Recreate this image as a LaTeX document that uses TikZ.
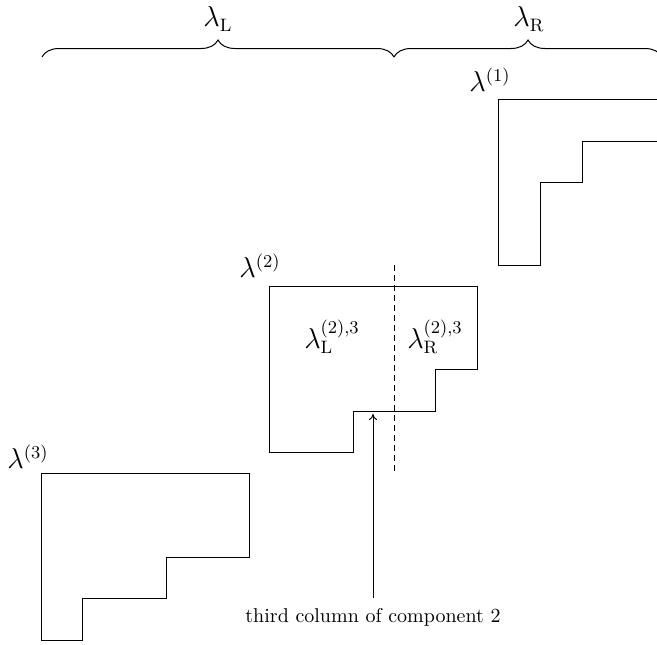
\documentclass[tikz,border=0pt]{standalone}
\usetikzlibrary{decorations.pathreplacing,arrows.meta}
\begin{document}
\begin{tikzpicture}[x=0.5pt,y=-0.5pt,
  diag/.style={draw,line width=0.5pt,line join=miter},
  lab/.style={inner sep=0pt,font=\fontsize{13.5}{16}\selectfont},
  bracedeco/.style={draw,line width=0.5pt,decorate,decoration={brace,amplitude=8.5pt,aspect=0.5}},
  cut/.style={draw,line width=0.5pt,dash pattern=on 3pt off 2pt}]
\useasboundingbox (0,0) rectangle (657,644);
\clip (0,0) rectangle (657,644);
% braces
\coordinate (bl) at (42,57);
\coordinate (bm) at (394,57);
\coordinate (br) at (662,57);
\draw[bracedeco] (bl) -- (bm);
\draw[bracedeco] (bm) -- (br);
\node[lab] (lamL) at (218,19) {$\lambda_{\mathrm{L}}$};
\node[lab] (lamR) at (529,19) {$\lambda_{\mathrm{R}}$};
% component 1
\node[lab] (l1) at (490,80) {$\lambda^{(1)}$};
\draw[diag] (657,99) -- (498,99) -- (498,265) -- (540,265) -- (540,182) -- (582,182) -- (582,141) -- (657,141);
% component 2
\node[lab] (l2) at (260,266) {$\lambda^{(2)}$};
\draw[diag] (269,286) -- (477,286) -- (477,369) -- (435,369) -- (435,411) -- (353,411) -- (353,452) -- (269,452) -- cycle;
\coordinate (dtop) at (394,265);
\coordinate (dbot) at (394,473);
\draw[cut] (dtop) -- (dbot);
\node[lab] (l2L) at (332,337) {$\lambda^{(2),3}_{\mathrm{L}}$};
\node[lab] (l2R) at (435,337) {$\lambda^{(2),3}_{\mathrm{R}}$};
% component 3
\node[lab] (l3) at (28,457) {$\lambda^{(3)}$};
\draw[diag] (41,473) -- (249,473) -- (249,557) -- (166,557) -- (166,598) -- (82,598) -- (82,640) -- (41,640) -- cycle;
% annotation
\node[inner sep=0pt,anchor=north] (note) at (373,608) {third column of component 2};
\coordinate (tip) at (373,414);
\draw[line width=0.5pt,-{To[length=3pt,width=4pt]},shorten <=5pt] (note.north) -- (tip);
\end{tikzpicture}
\end{document}
